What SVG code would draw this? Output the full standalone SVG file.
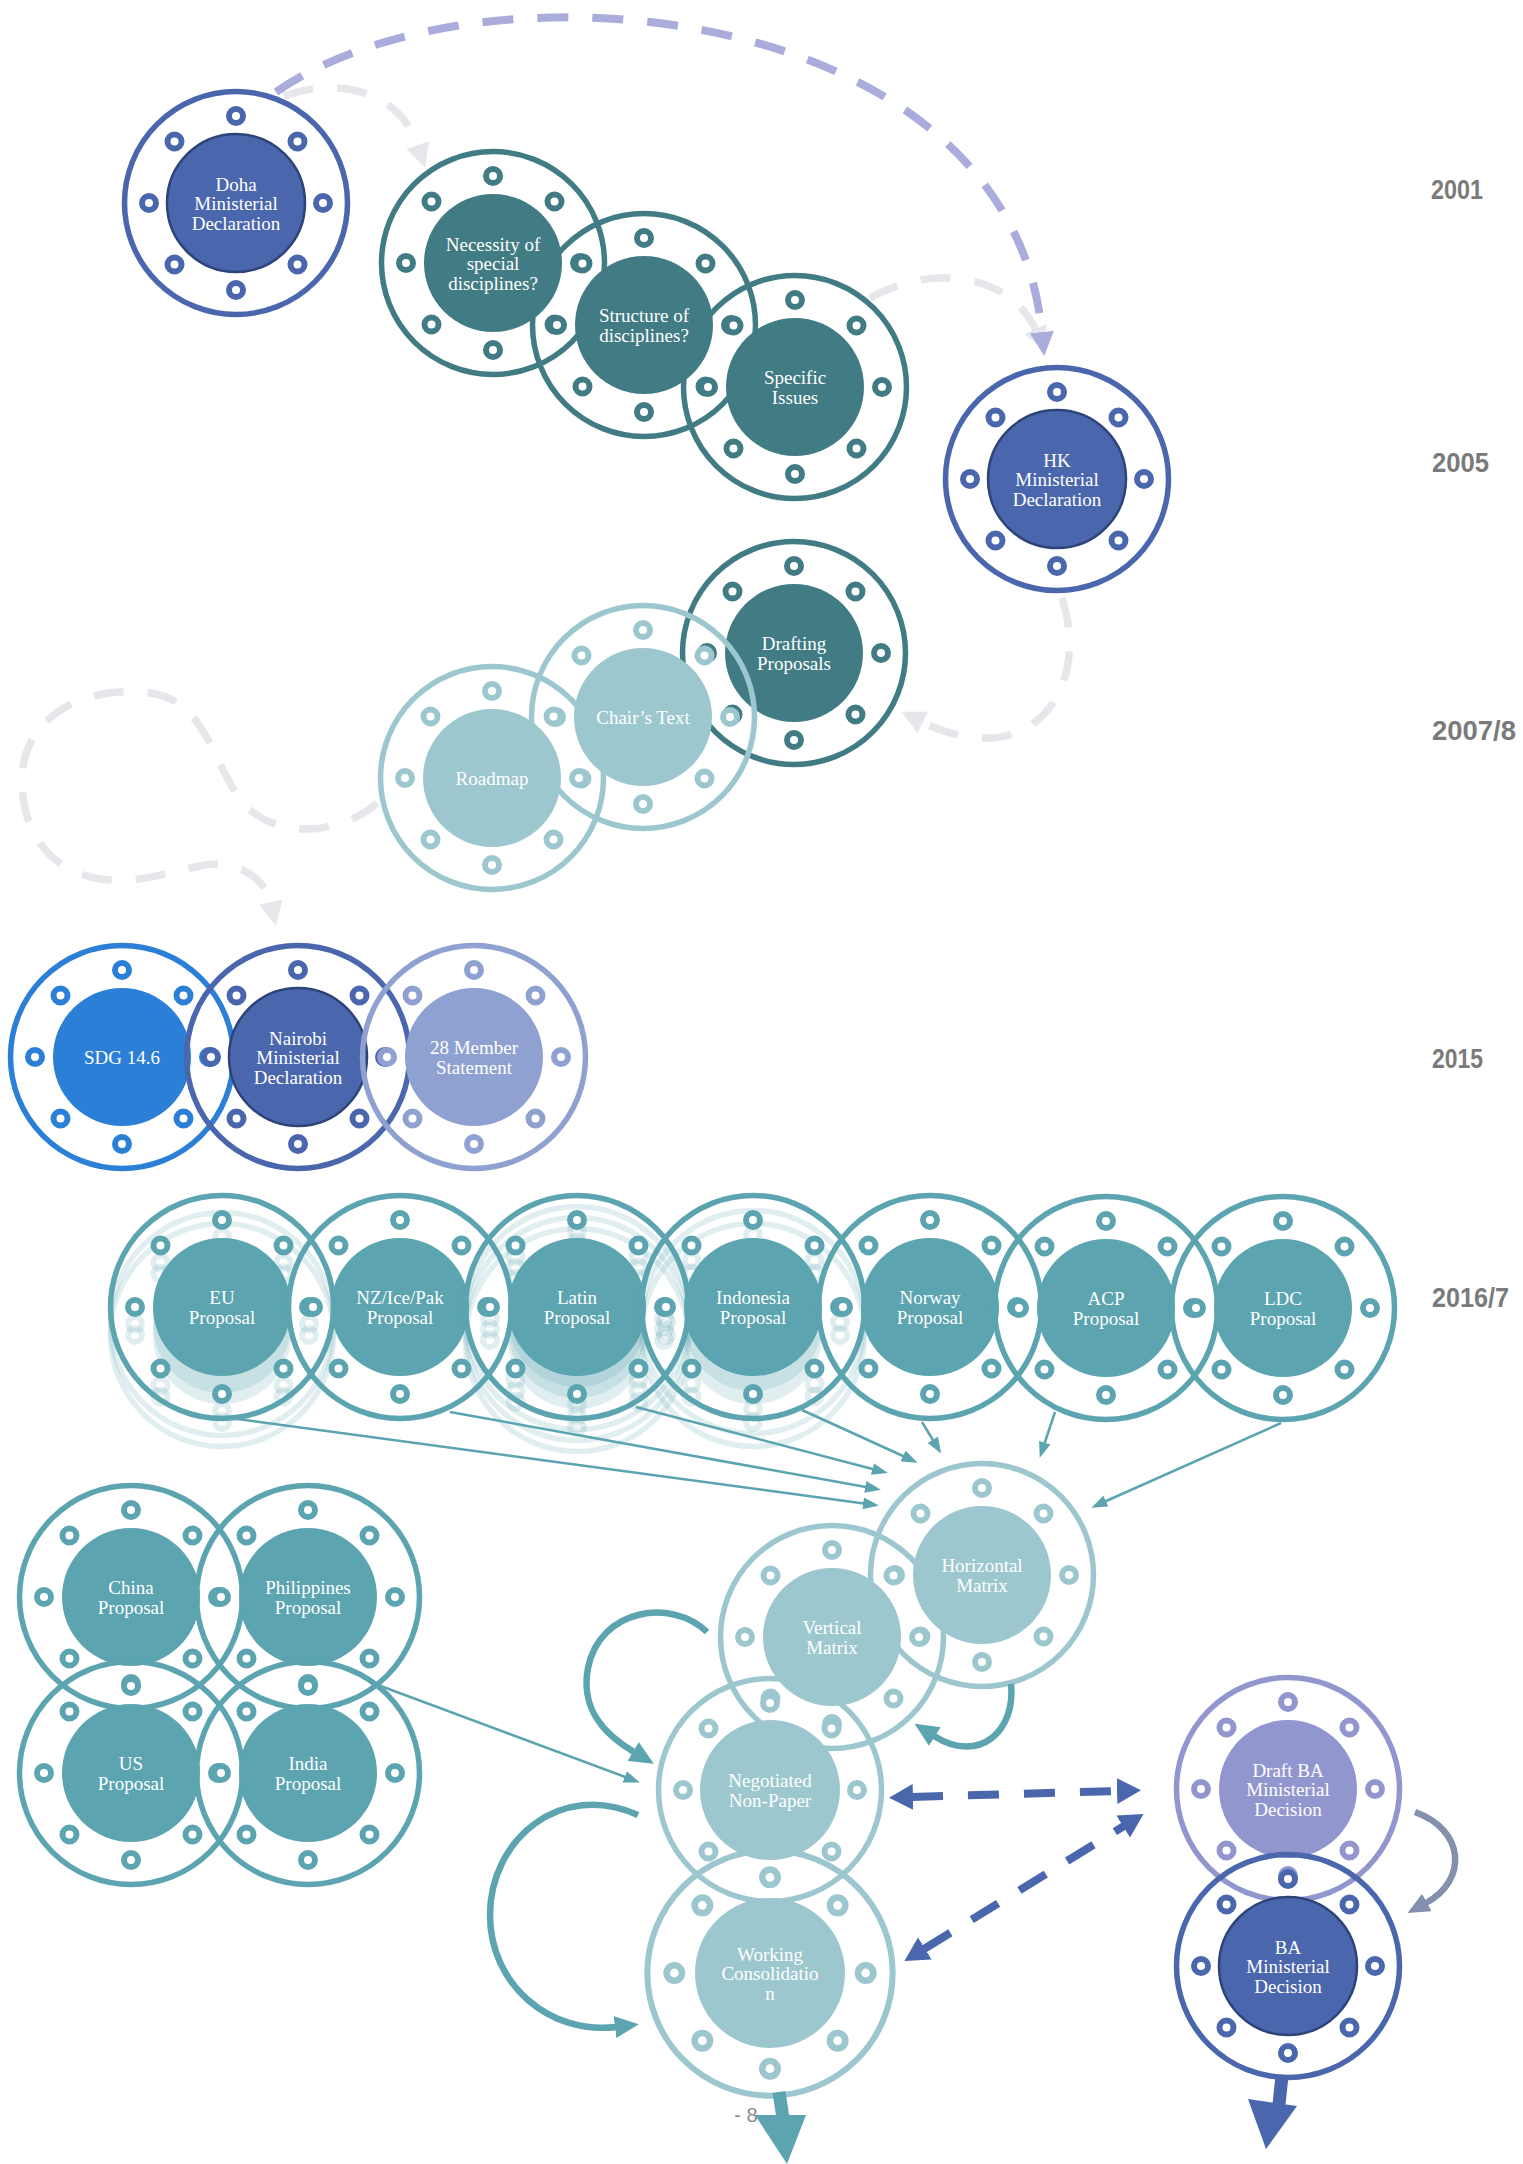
<svg xmlns="http://www.w3.org/2000/svg" xmlns:xlink="http://www.w3.org/1999/xlink" width="1523" height="2164" viewBox="0 0 1523 2164">
<style>
.ring{fill:none;stroke:currentColor;stroke-width:5.5}
.sr{fill:#fff;stroke:currentColor;stroke-width:6}
.core{fill:currentColor}
.coreb{fill:currentColor;stroke:#2d4479;stroke-width:2.5}
.lbl{font-family:"Liberation Serif","DejaVu Serif",serif;font-size:19px;fill:#fff;text-anchor:middle}
.year{font-family:"Liberation Sans",Arial,sans-serif;font-weight:bold;font-size:28px;fill:#7a7a7a}
.thin{fill:none;stroke:#5ba4b0;stroke-width:2.5;marker-end:url(#mThin)}
.thick{fill:none;stroke:#5ba4b0;stroke-width:6.5;marker-end:url(#mTeal)}
.gray{fill:none;stroke:#e7e6ea;stroke-width:7.5;stroke-dasharray:30 24;marker-end:url(#mGray)}
.purple{fill:none;stroke:#aaaddb;stroke-width:8;stroke-dasharray:31 24;marker-end:url(#mPurple)}
.blue{fill:none;stroke:#4a66ad;stroke-width:8;stroke-dasharray:31 25;marker-start:url(#mBlue);marker-end:url(#mBlue)}
.blueT{color:#4a66ad}.dteal{color:#417b84}.lteal{color:#9dc7ce}.mteal{color:#5ba4b0}
.ghost{opacity:0.18}
</style>
<defs>
<g id="frame">
<circle class="ring" r="111.5"/>
<circle class="sr" cx="0" cy="-87" r="7"/>
<circle class="sr" cx="61.5" cy="-61.5" r="7"/>
<circle class="sr" cx="87" cy="0" r="7"/>
<circle class="sr" cx="61.5" cy="61.5" r="7"/>
<circle class="sr" cx="0" cy="87" r="7"/>
<circle class="sr" cx="-61.5" cy="61.5" r="7"/>
<circle class="sr" cx="-87" cy="0" r="7"/>
<circle class="sr" cx="-61.5" cy="-61.5" r="7"/>
</g>
<g id="ghostshape"><use xlink:href="#frame" href="#frame"/><circle class="core" r="69"/></g>
<marker id="mThin" markerUnits="userSpaceOnUse" viewBox="0 0 16 12" refX="12" refY="6" markerWidth="16" markerHeight="12" orient="auto"><path d="M0,0 L16,6 L0,12 z" fill="#5ba4b0"/></marker>
<marker id="mTeal" markerUnits="userSpaceOnUse" viewBox="0 0 24 22" refX="1" refY="11" markerWidth="24" markerHeight="22" orient="auto"><path d="M0,0 L24,11 L0,22 z" fill="#5ba4b0"/></marker>
<marker id="mGray" markerUnits="userSpaceOnUse" viewBox="0 0 24 24" refX="1" refY="12" markerWidth="24" markerHeight="24" orient="auto"><path d="M0,0 L24,12 L0,24 z" fill="#e7e6ea"/></marker>
<marker id="mPurple" markerUnits="userSpaceOnUse" viewBox="0 0 24 24" refX="1" refY="12" markerWidth="24" markerHeight="24" orient="auto"><path d="M0,0 L24,12 L0,24 z" fill="#aaaddb"/></marker>
<marker id="mBlue" markerUnits="userSpaceOnUse" viewBox="0 0 24 26" refX="1" refY="13" markerWidth="24" markerHeight="26" orient="auto-start-reverse"><path d="M0,0 L24,13 L0,26 z" fill="#4a66ad"/></marker>
<marker id="mSlate" markerUnits="userSpaceOnUse" viewBox="0 0 22 20" refX="1" refY="10" markerWidth="22" markerHeight="20" orient="auto"><path d="M0,0 L22,10 L0,20 z" fill="#8391ad"/></marker>
</defs>
<rect width="1523" height="2164" fill="#fff"/>

<g id="years">
<text class="year" x="1431" y="199" textLength="52" lengthAdjust="spacingAndGlyphs">2001</text>
<text class="year" x="1432" y="472" textLength="57" lengthAdjust="spacingAndGlyphs">2005</text>
<text class="year" x="1432" y="740" textLength="84" lengthAdjust="spacingAndGlyphs">2007/8</text>
<text class="year" x="1432" y="1068" textLength="51" lengthAdjust="spacingAndGlyphs">2015</text>
<text class="year" x="1432" y="1307" textLength="77" lengthAdjust="spacingAndGlyphs">2016/7</text>
</g>

<g id="nodes">
<g id="doha" class="blueT" transform="translate(236,203)"><use href="#frame"/><circle class="coreb" r="69"/><text class="lbl"><tspan x="0" y="-12.5">Doha</tspan><tspan x="0" y="7">Ministerial</tspan><tspan x="0" y="26.5">Declaration</tspan></text></g>
<g id="necessity" class="dteal" transform="translate(493,263)"><use href="#frame"/><circle class="core" r="69"/><text class="lbl"><tspan x="0" y="-12.5">Necessity of</tspan><tspan x="0" y="7">special</tspan><tspan x="0" y="26.5">disciplines?</tspan></text></g>
<g id="structure" class="dteal" transform="translate(644,325)"><use href="#frame"/><circle class="core" r="69"/><text class="lbl"><tspan x="0" y="-2.75">Structure of</tspan><tspan x="0" y="16.75">disciplines?</tspan></text></g>
<g id="specific" class="dteal" transform="translate(795,387)"><use href="#frame"/><circle class="core" r="69"/><text class="lbl"><tspan x="0" y="-2.75">Specific</tspan><tspan x="0" y="16.75">Issues</tspan></text></g>
<g id="hk" class="blueT" transform="translate(1057,479)"><use href="#frame"/><circle class="coreb" r="69"/><text class="lbl"><tspan x="0" y="-12.5">HK</tspan><tspan x="0" y="7">Ministerial</tspan><tspan x="0" y="26.5">Declaration</tspan></text></g>
<g id="drafting" class="dteal" transform="translate(794,653)"><use href="#frame"/><circle class="core" r="69"/><text class="lbl"><tspan x="0" y="-2.75">Drafting</tspan><tspan x="0" y="16.75">Proposals</tspan></text></g>
<g id="chairs" class="lteal" transform="translate(643,717)"><use href="#frame"/><circle class="core" r="69"/><text class="lbl" x="0" y="7">Chair’s Text</text></g>
<g id="roadmap" class="lteal" transform="translate(492,778)"><use href="#frame"/><circle class="core" r="69"/><text class="lbl" x="0" y="7">Roadmap</text></g>

<g id="sdg" style="color:#2b7fd6" transform="translate(122,1057)"><use href="#frame"/><circle class="core" r="69"/><text class="lbl" x="0" y="7">SDG 14.6</text></g>
<g id="nairobi" class="blueT" transform="translate(298,1057)"><use href="#frame"/><circle class="coreb" r="69"/><text class="lbl"><tspan x="0" y="-12.5">Nairobi</tspan><tspan x="0" y="7">Ministerial</tspan><tspan x="0" y="26.5">Declaration</tspan></text></g>
<g id="member28" style="color:#8fa1d0" transform="translate(474,1057)"><use href="#frame"/><circle class="core" r="69"/><text class="lbl"><tspan x="0" y="-2.75">28 Member</tspan><tspan x="0" y="16.75">Statement</tspan></text></g>

<g id="eu" class="mteal" transform="translate(222,1307)"><use class="ghost" href="#ghostshape" transform="translate(0,17)"/><use class="ghost" href="#ghostshape" transform="translate(0,28)"/><use href="#frame"/><circle class="core" r="69"/><text class="lbl"><tspan x="0" y="-2.75">EU</tspan><tspan x="0" y="16.75">Proposal</tspan></text></g>
<g id="nz" class="mteal" transform="translate(400,1307)"><use href="#frame"/><circle class="core" r="69"/><text class="lbl"><tspan x="0" y="-2.75">NZ/Ice/Pak</tspan><tspan x="0" y="16.75">Proposal</tspan></text></g>
<g id="latin" class="mteal" transform="translate(577,1307)"><use class="ghost" href="#ghostshape" transform="translate(0,11)"/><use class="ghost" href="#ghostshape" transform="translate(0,22)"/><use class="ghost" href="#ghostshape" transform="translate(0,33)"/><use href="#frame"/><circle class="core" r="69"/><text class="lbl"><tspan x="0" y="-2.75">Latin</tspan><tspan x="0" y="16.75">Proposal</tspan></text></g>
<g id="indonesia" class="mteal" transform="translate(753,1307)"><use class="ghost" href="#ghostshape" transform="translate(0,15)"/><use class="ghost" href="#ghostshape" transform="translate(0,28)"/><use href="#frame"/><circle class="core" r="69"/><text class="lbl"><tspan x="0" y="-2.75">Indonesia</tspan><tspan x="0" y="16.75">Proposal</tspan></text></g>
<g id="norway" class="mteal" transform="translate(930,1307)"><use href="#frame"/><circle class="core" r="69"/><text class="lbl"><tspan x="0" y="-2.75">Norway</tspan><tspan x="0" y="16.75">Proposal</tspan></text></g>
<g id="acp" class="mteal" transform="translate(1106,1308)"><use href="#frame"/><circle class="core" r="69"/><text class="lbl"><tspan x="0" y="-2.75">ACP</tspan><tspan x="0" y="16.75">Proposal</tspan></text></g>
<g id="ldc" class="mteal" transform="translate(1283,1308)"><use href="#frame"/><circle class="core" r="69"/><text class="lbl"><tspan x="0" y="-2.75">LDC</tspan><tspan x="0" y="16.75">Proposal</tspan></text></g>

<g id="china" class="mteal" transform="translate(131,1597)"><use href="#frame"/><circle class="core" r="69"/><text class="lbl"><tspan x="0" y="-2.75">China</tspan><tspan x="0" y="16.75">Proposal</tspan></text></g>
<g id="philippines" class="mteal" transform="translate(308,1597)"><use href="#frame"/><circle class="core" r="69"/><text class="lbl"><tspan x="0" y="-2.75">Philippines</tspan><tspan x="0" y="16.75">Proposal</tspan></text></g>
<g id="us" class="mteal" transform="translate(131,1773)"><use href="#frame"/><circle class="core" r="69"/><text class="lbl"><tspan x="0" y="-2.75">US</tspan><tspan x="0" y="16.75">Proposal</tspan></text></g>
<g id="india" class="mteal" transform="translate(308,1773)"><use href="#frame"/><circle class="core" r="69"/><text class="lbl"><tspan x="0" y="-2.75">India</tspan><tspan x="0" y="16.75">Proposal</tspan></text></g>

<g id="horizontal" class="lteal" transform="translate(982,1575)"><use href="#frame"/><circle class="core" r="69"/><text class="lbl"><tspan x="0" y="-2.75">Horizontal</tspan><tspan x="0" y="16.75">Matrix</tspan></text></g>
<g id="vertical" class="lteal" transform="translate(832,1637)"><use href="#frame"/><circle class="core" r="69"/><text class="lbl"><tspan x="0" y="-2.75">Vertical</tspan><tspan x="0" y="16.75">Matrix</tspan></text></g>
<g id="negotiated" class="lteal" transform="translate(770,1790)"><use href="#frame"/><circle class="core" r="70"/><text class="lbl"><tspan x="0" y="-2.75">Negotiated</tspan><tspan x="0" y="16.75">Non-Paper</tspan></text></g>
<g id="working" class="lteal" transform="translate(770,1973)"><use href="#frame" transform="scale(1.1)"/><circle class="core" r="75"/><text class="lbl"><tspan x="0" y="-12.5">Working</tspan><tspan x="0" y="7">Consolidatio</tspan><tspan x="0" y="26.5">n</tspan></text></g>
<g id="draftba" style="color:#9296cf" transform="translate(1288,1789)"><use href="#frame"/><circle class="core" r="69"/><text class="lbl"><tspan x="0" y="-12.5">Draft BA</tspan><tspan x="0" y="7">Ministerial</tspan><tspan x="0" y="26.5">Decision</tspan></text></g>
<g id="ba" class="blueT" transform="translate(1288,1966)"><use href="#frame"/><circle class="coreb" r="69"/><text class="lbl"><tspan x="0" y="-12.5">BA</tspan><tspan x="0" y="7">Ministerial</tspan><tspan x="0" y="26.5">Decision</tspan></text></g>
</g>

<text id="pagenum" x="752" y="2122" font-family="Liberation Sans, Arial, sans-serif" font-size="20" fill="#8c8c8c" text-anchor="middle">- 8 -</text>

<g id="connectors">
<path class="gray" d="M284,96 C340,76 400,92 418,146"/>
<path class="gray" d="M870,298 C935,262 1010,275 1036,330"/>
<path class="purple" d="M276,92 C480,-50 1010,0 1042,333"/>
<path class="gray" d="M1062,598 C1092,690 1030,775 922,722"/>
<path class="gray" d="M377,803 C345,832 282,842 246,806 C214,772 208,700 150,693 C80,684 22,720 22,780 C22,850 70,885 130,880 C180,875 205,858 232,866 C252,872 267,885 271,903"/>

<path class="thin" d="M230,1418 L875,1505"/>
<path class="thin" d="M450,1412 L877,1489"/>
<path class="thin" d="M636,1407 L884,1472"/>
<path class="thin" d="M802,1410 L914,1461"/>
<path class="thin" d="M922,1422 L939,1450"/>
<path class="thin" d="M1055,1412 L1041,1454"/>
<path class="thin" d="M1281,1423 L1095,1506"/>
<path class="thin" d="M378,1685 L636,1781"/>

<path class="thick" d="M707,1632 C672,1598 600,1608 588,1668 C580,1710 605,1735 634,1752"/>
<path class="thick" d="M1011,1684 C1016,1730 980,1765 934,1736"/>
<path class="thick" d="M638,1815 C560,1780 490,1840 490,1915 C490,1985 550,2035 616,2027"/>
<path fill="none" stroke="#8391ad" stroke-width="6.5" marker-end="url(#mSlate)" d="M1415,1812 C1465,1830 1468,1880 1426,1903"/>

<path class="blue" d="M912,1797 L1118,1791"/>
<path class="blue" d="M924,1949 L1124,1826"/>

<line x1="779" y1="2092" x2="783" y2="2118" stroke="#5ba4b0" stroke-width="13"/>
<polygon points="755,2115 806,2115 787,2164" fill="#5ba4b0"/>
<line x1="1282" y1="2076" x2="1279" y2="2104" stroke="#4a66ad" stroke-width="13"/>
<polygon points="1248,2099 1297,2106 1266,2149" fill="#4a66ad"/>
</g>
</svg>
